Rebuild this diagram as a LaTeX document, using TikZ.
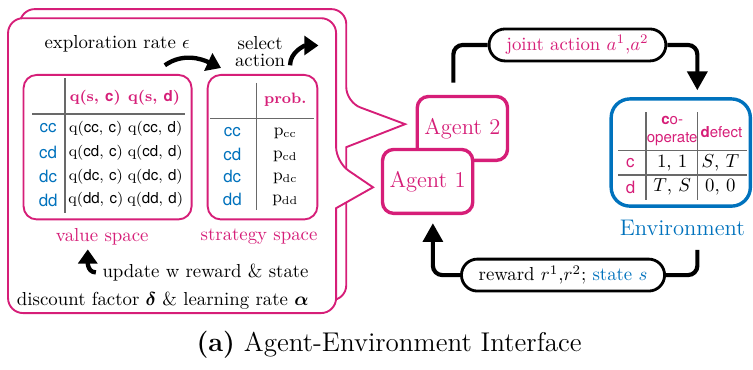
\documentclass[tikz,border=0pt]{standalone}
\usepackage{amsmath}
\usepackage{fontspec}
\setsansfont{TeX Gyre Heros}
\usetikzlibrary{arrows.meta}
\definecolor{agentpink}{RGB}{214,30,120}
\definecolor{envblue}{RGB}{0,114,189}
\definecolor{rulegray}{RGB}{105,105,105}
\tikzset{
  panel/.style={draw=agentpink, line width=1pt, fill=white},
  spacebox/.style={draw=agentpink, line width=1pt, rounded corners=7pt, minimum height=2.70cm},
  agentbox/.style={draw=agentpink, line width=1.8pt, rounded corners=6pt, fill=white, minimum width=48pt, minimum height=34pt, text=agentpink, font=\large},
  envbox/.style={draw=envblue, line width=1.8pt, rounded corners=10pt, minimum width=74pt, minimum height=57pt},
  pill/.style={draw, line width=1.5pt, rounded corners=8.5pt, minimum height=17pt, fill=white},
  flow/.style={line width=2.2pt, rounded corners=5pt},
  bigtip/.style={-{Triangle[length=10pt,width=10.5pt]}},
  curvearrow/.style={line width=2.3pt, -{Triangle[length=7.5pt,width=10pt]}},
  tablerule/.style={draw=rulegray, line width=0.8pt},
  rowlab/.style={text=envblue, font=\sffamily\small},
  qval/.style={font=\footnotesize},
  headtext/.style={text=agentpink, font=\footnotesize\bfseries},
}
\begin{document}
\begin{tikzpicture}
\useasboundingbox (0,0) rectangle (14.07,6.90);
% agent panels, back one first
\draw[panel] (7.57,4.58) -- (6.47,4.15) [rounded corners=8pt] -- (6.47,1.29) -- (0.37,1.29) -- (0.37,6.73) -- (6.47,6.73) -- (6.47,4.99) [sharp corners] -- cycle;
\draw[panel] (6.97,3.40) -- (6.28,3.01) [rounded corners=8pt] -- (6.28,1.05) -- (0.15,1.05) -- (0.15,6.56) -- (6.28,6.56) -- (6.28,3.87) [sharp corners] -- cycle;

% value space
\node[spacebox, minimum width=3.14cm] (value) at (2.01,4.15) {};
\node[text=agentpink] (valuelab) at (1.91,2.47) {value space};
\draw[tablerule] (1.21,5.44) -- (1.21,2.92);
\draw[tablerule] (0.60,4.77) -- (3.46,4.77);
\node[headtext] (qc) at (1.78,5.07) {q(s, \textsf{c})};
\node[headtext] (qd) at (2.88,5.07) {q(s, \textsf{d})};
\foreach \s [count=\i from 0] in {cc,cd,dc,dd} {
  \node[rowlab] (v\s) at (0.90,4.50-0.447*\i) {\s};
  \node[qval] (vc\s) at (1.79,4.50-0.447*\i) {q(\textsf{\s}, \textsf{c})};
  \node[qval] (vd\s) at (2.90,4.50-0.447*\i) {q(\textsf{\s}, \textsf{d})};
}

% strategy space
\node[spacebox, minimum width=2.05cm] (strategy) at (4.905,4.15) {};
\node[text=agentpink] (stratlab) at (4.84,2.47) {strategy space};
\draw[tablerule] (4.79,5.35) -- (4.79,2.97);
\draw[tablerule] (3.93,4.69) -- (5.87,4.69);
\node[headtext] (prob) at (5.33,5.03) {prob.};
\foreach \s [count=\i from 0] in {cc,cd,dc,dd} {
  \node[rowlab] (s\s) at (4.34,4.43-0.417*\i) {\s};
  \node[font=\small] (p\s) at (5.33,4.40-0.417*\i) {$\mathrm{p}_{\mathrm{\s}}$};
}

% learning texts
\node (explore) at (2.19,6.09) {exploration rate $\epsilon$};
\node[align=center] (select) at (4.86,5.94) {select\\[-3pt]action};
\node[anchor=east] (update) at (5.89,1.81) {update w reward \& state};
\node[anchor=east] (discount) at (5.89,1.29) {discount factor $\boldsymbol{\delta}$ \& learning rate $\boldsymbol{\alpha}$};
\draw[curvearrow] (3.08,5.68) to[out=35,in=155] (4.13,5.63);
\draw[curvearrow] (5.42,5.68) to[out=90,in=180] (5.95,6.05);
\draw[curvearrow] (update.west) to[out=180,in=-90] (1.64,2.24);

% agents
\node[agentbox] (agent2) at (8.64,4.50) {Agent 2};
\node[agentbox] (agent1) at (7.99,3.51) {Agent 1};

% environment
\node[envbox] (env) at (12.72,4.05) {};
\node[text=envblue, font=\large] (envlab) at (12.75,2.64) {Environment};
\draw[tablerule] (12.07,4.80) -- (12.07,3.16);
\draw[tablerule] (13.03,4.80) -- (13.03,3.16);
\draw[tablerule] (11.55,4.09) -- (13.96,4.09);
\draw[tablerule] (11.55,3.63) -- (13.96,3.63);
\node[text=agentpink, font=\sffamily\footnotesize, align=center] (coop) at (12.56,4.45) {\textbf{c}o-\\operate};
\node[text=agentpink, font=\sffamily\footnotesize] (defect) at (13.48,4.43) {\textbf{d}efect};
\node[text=agentpink, font=\sffamily\small] (rowc) at (11.78,3.85) {c};
\node[text=agentpink, font=\sffamily\small] (rowd) at (11.78,3.40) {d};
\node (paycc) at (12.56,3.85) {1, 1};
\node (paycd) at (13.46,3.85) {$S$, $T$};
\node (paydc) at (12.56,3.40) {$T$, $S$};
\node (paydd) at (13.46,3.40) {0, 0};

% action and reward loop
\node[pill, minimum width=94pt, text=agentpink] (joint) at (10.79,6.06) {joint action $a^1$,$a^2$};
\node[pill, minimum width=108pt] (reward) at (10.52,1.76) {reward $r^1$,$r^2$; \textcolor{envblue}{state $s$}};
\draw[flow, shorten <=6.5pt] ([xshift=-4.8pt]agent2.north) |- (joint.west);
\draw[flow, bigtip, shorten >=3.7pt] (joint.east) -| ([xshift=8.8pt]env.north);
\draw[flow, shorten <=4pt] ([xshift=8pt]envlab.south) |- (reward.east);
\draw[flow, bigtip, shorten >=4.3pt] (reward.west) -| ([xshift=2.8pt]agent1.south);

\node[font=\Large] (caption) at (7.27,0.45) {\textbf{(a)} Agent-Environment Interface};
\end{tikzpicture}
\end{document}
